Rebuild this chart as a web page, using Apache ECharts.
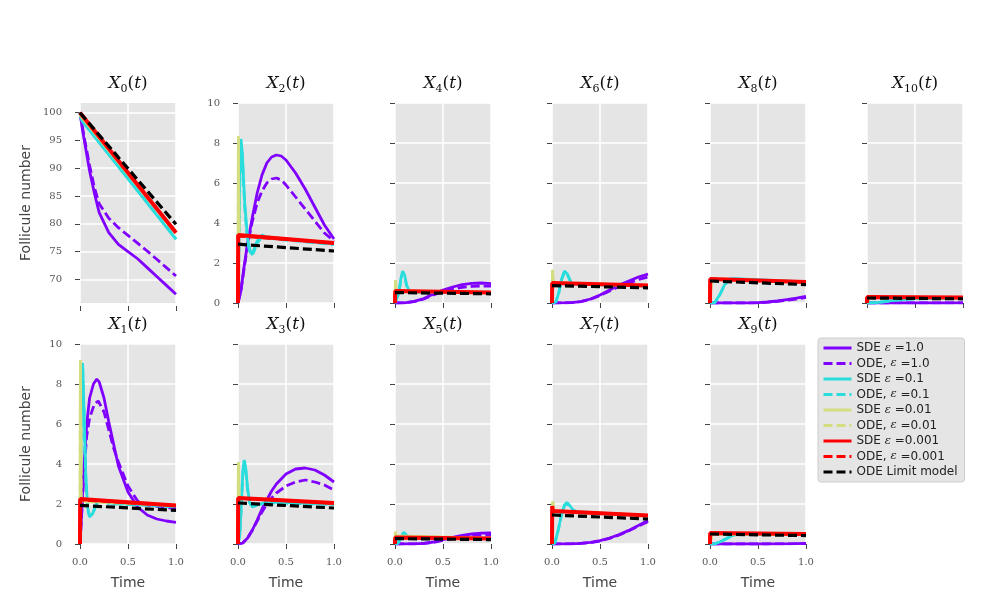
<!DOCTYPE html>
<html>
<head>
<meta charset="utf-8">
<script src="https://cdn.jsdelivr.net/npm/echarts@6/dist/echarts.min.js"></script>
<style>
html,body{margin:0;padding:0;background:#fff}
#chart{width:988px;height:611px}
</style>
</head>
<body>
<div id="chart"></div>
<script>
// one list per compartment X0..X10, each holding [time, follicle count] pairs
var sdeEps1 = [
	[[0,100],[0.025,97],[0.05,94.5],[0.1,89.5],[0.15,85.5],[0.2,82],[0.3,78.4],[0.4,76.3],[0.5,75],[0.6,73.7],[0.7,72.1],[0.8,70.5],[0.9,68.9],[1,67.3]],
	[[0,0],[0.02,1.8],[0.04,3.8],[0.07,6.0],[0.1,7.3],[0.14,8.0],[0.175,8.25],[0.2,8.1],[0.25,7.3],[0.3,6.1],[0.35,5.0],[0.4,3.9],[0.5,2.6],[0.6,1.85],[0.7,1.45],[0.8,1.25],[0.9,1.15],[1,1.08]],
	[[0,0],[0.03,0.6],[0.06,1.7],[0.1,3.0],[0.15,4.3],[0.2,5.5],[0.25,6.4],[0.3,7.0],[0.35,7.3],[0.4,7.4],[0.45,7.35],[0.5,7.15],[0.6,6.5],[0.7,5.7],[0.8,4.8],[0.9,3.9],[1,3.2]],
	[[0,0],[0.05,0.05],[0.1,0.3],[0.15,0.7],[0.2,1.2],[0.25,1.75],[0.3,2.2],[0.35,2.65],[0.4,3.0],[0.5,3.5],[0.6,3.75],[0.7,3.8],[0.8,3.7],[0.9,3.45],[1,3.1]],
	[[0,0],[0.1,0.01],[0.2,0.08],[0.3,0.22],[0.4,0.45],[0.5,0.65],[0.6,0.8],[0.7,0.92],[0.8,0.98],[0.9,1.0],[1,0.97]],
	[[0,0],[0.2,0.01],[0.3,0.03],[0.4,0.1],[0.5,0.22],[0.6,0.33],[0.7,0.43],[0.8,0.5],[0.9,0.54],[1,0.55]],
	[[0,0],[0.2,0.02],[0.3,0.07],[0.4,0.2],[0.5,0.4],[0.6,0.65],[0.7,0.9],[0.8,1.1],[0.9,1.3],[1,1.44]],
	[[0,0],[0.2,0.01],[0.3,0.03],[0.4,0.08],[0.5,0.17],[0.6,0.3],[0.7,0.47],[0.8,0.68],[0.9,0.92],[1,1.17]],
	[[0,0],[0.4,0],[0.5,0.02],[0.6,0.05],[0.7,0.1],[0.8,0.17],[0.9,0.24],[1,0.33]],
	[[0,0],[0.5,0],[0.7,0.01],[0.9,0.02],[1,0.03]],
	[[0,0],[0.8,0],[1,0.01]]
];
var odeEps1 = [
	[[0,100],[0.05,95],[0.1,90.5],[0.15,86.5],[0.2,83.6],[0.3,81],[0.4,79.3],[0.5,77.9],[0.6,76.5],[0.7,75.1],[0.8,73.6],[0.9,72.1],[1,70.6]],
	[[0,0],[0.02,1.7],[0.04,3.5],[0.07,5.4],[0.1,6.3],[0.15,7.0],[0.19,7.15],[0.25,6.6],[0.3,5.7],[0.35,4.8],[0.4,4.1],[0.5,2.9],[0.6,2.15],[0.7,1.95],[0.8,1.88],[0.9,1.82],[1,1.78]],
	[[0,0],[0.03,0.6],[0.06,1.6],[0.1,2.9],[0.15,4.1],[0.2,5.0],[0.25,5.6],[0.3,6.0],[0.35,6.2],[0.4,6.25],[0.45,6.15],[0.5,5.9],[0.6,5.3],[0.7,4.7],[0.8,4.1],[0.9,3.5],[1,3.1]],
	[[0,0],[0.05,0.05],[0.1,0.3],[0.15,0.7],[0.2,1.15],[0.25,1.6],[0.3,2.0],[0.35,2.3],[0.4,2.55],[0.5,2.9],[0.6,3.1],[0.7,3.2],[0.8,3.1],[0.9,2.95],[1,2.7]],
	[[0,0],[0.1,0.01],[0.2,0.07],[0.3,0.2],[0.4,0.4],[0.5,0.57],[0.6,0.7],[0.7,0.78],[0.8,0.83],[0.9,0.85],[1,0.84]],
	[[0,0],[0.2,0.01],[0.3,0.03],[0.4,0.08],[0.5,0.18],[0.6,0.27],[0.7,0.35],[0.8,0.41],[0.9,0.44],[1,0.45]],
	[[0,0],[0.2,0.02],[0.3,0.07],[0.4,0.18],[0.5,0.37],[0.6,0.6],[0.7,0.82],[0.8,1.0],[0.9,1.17],[1,1.3]],
	[[0,0],[0.2,0.01],[0.3,0.03],[0.4,0.07],[0.5,0.15],[0.6,0.28],[0.7,0.45],[0.8,0.66],[0.9,0.9],[1,1.12]],
	[[0,0],[0.4,0],[0.5,0.01],[0.6,0.04],[0.7,0.08],[0.8,0.14],[0.9,0.2],[1,0.28]],
	[[0,0],[0.6,0],[0.8,0.01],[1,0.02]],
	[[0,0],[1,0.005]]
];
var sdeEps01 = [
	[[0,100],[0.01,99],[0.03,98.3],[0.5,88.1],[1,77.2]],
	[[0,0],[0.01,5],[0.02,8.8],[0.027,9.05],[0.04,7],[0.06,3.5],[0.08,1.8],[0.1,1.4],[0.13,1.5],[0.17,2.0],[0.21,2.2],[0.25,2.1],[0.3,2.05],[0.5,2.0],[1,1.88]],
	[[0,0],[0.01,3.0],[0.02,6.5],[0.03,8.2],[0.045,7.5],[0.07,5.0],[0.1,3.2],[0.13,2.5],[0.16,2.6],[0.2,3.1],[0.25,3.4],[0.3,3.3],[0.5,3.2],[1,2.95]],
	[[0,0],[0.02,0.5],[0.035,2.0],[0.05,3.6],[0.065,4.2],[0.08,3.8],[0.1,2.8],[0.12,2.1],[0.15,1.85],[0.2,1.95],[0.3,2.1],[1,2.0]],
	[[0,0],[0.02,0.05],[0.04,0.5],[0.06,1.2],[0.08,1.6],[0.1,1.4],[0.12,0.9],[0.15,0.6],[0.2,0.55],[1,0.52]],
	[[0,0],[0.03,0.03],[0.06,0.3],[0.09,0.58],[0.12,0.45],[0.15,0.32],[0.2,0.3],[1,0.28]],
	[[0,0],[0.04,0.05],[0.07,0.5],[0.1,1.2],[0.13,1.6],[0.16,1.45],[0.2,1.0],[0.25,0.95],[1,0.86]],
	[[0,0],[0.03,0.05],[0.06,0.6],[0.1,1.5],[0.13,1.95],[0.155,2.08],[0.18,1.95],[0.22,1.7],[0.27,1.6],[1,1.42]],
	[[0,0],[0.05,0.02],[0.1,0.4],[0.15,0.9],[0.2,1.2],[0.25,1.22],[1,1.05]],
	[[0,0],[0.05,0.01],[0.1,0.1],[0.15,0.22],[0.2,0.35],[0.25,0.45],[0.3,0.5],[1,0.48]],
	[[0,0],[0.1,0.02],[0.2,0.08],[0.3,0.15],[0.5,0.22],[1,0.25]]
];
var odeEps01 = [
	[[0,100],[0.01,99.1],[0.03,98.4],[0.5,88.2],[1,77.3]],
	[[0,0],[0.01,5.2],[0.02,8.7],[0.027,8.95],[0.04,6.8],[0.06,3.3],[0.08,1.7],[0.1,1.35],[0.13,1.5],[0.17,1.95],[0.21,2.15],[0.25,2.1],[0.3,2.02],[0.5,1.98],[1,1.86]],
	[[0,0],[0.01,3.1],[0.02,6.4],[0.03,8.0],[0.045,7.3],[0.07,4.8],[0.1,3.0],[0.13,2.4],[0.16,2.5],[0.2,3.0],[0.25,3.3],[0.3,3.25],[0.5,3.15],[1,2.92]],
	[[0,0],[0.02,0.5],[0.035,2.0],[0.05,3.5],[0.065,4.1],[0.08,3.7],[0.1,2.7],[0.12,2.05],[0.15,1.85],[0.2,1.95],[0.3,2.05],[1,1.98]],
	[[0,0],[0.02,0.05],[0.04,0.5],[0.06,1.15],[0.08,1.55],[0.1,1.35],[0.12,0.88],[0.15,0.6],[0.2,0.55],[1,0.51]],
	[[0,0],[0.03,0.03],[0.06,0.3],[0.09,0.55],[0.12,0.44],[0.15,0.32],[0.2,0.3],[1,0.27]],
	[[0,0],[0.04,0.05],[0.07,0.5],[0.1,1.15],[0.13,1.55],[0.16,1.42],[0.2,1.0],[0.25,0.94],[1,0.85]],
	[[0,0],[0.03,0.05],[0.06,0.6],[0.1,1.45],[0.13,1.9],[0.155,2.02],[0.18,1.92],[0.22,1.68],[0.27,1.58],[1,1.4]],
	[[0,0],[0.05,0.02],[0.1,0.38],[0.15,0.88],[0.2,1.18],[0.25,1.2],[1,1.04]],
	[[0,0],[0.05,0.01],[0.1,0.1],[0.15,0.21],[0.2,0.34],[0.25,0.44],[0.3,0.49],[1,0.47]],
	[[0,0],[0.1,0.02],[0.2,0.07],[0.3,0.14],[0.5,0.21],[1,0.24]]
];
var sdeEps001 = [
	[[0,100],[0.005,99.5],[1,78.3]],
	[[0,0],[0.004,9.2],[0.008,6],[0.012,2.3],[0.02,2.15],[1,1.95]],
	[[0,0],[0.004,8.35],[0.008,5.5],[0.012,3.4],[1,3.0]],
	[[0,0],[0.004,4.1],[0.008,3.0],[0.012,2.3],[1,2.05]],
	[[0,0],[0.005,1.15],[0.01,0.8],[0.015,0.6],[1,0.53]],
	[[0,0],[0.005,0.63],[0.01,0.4],[0.015,0.32],[1,0.28]],
	[[0,0],[0.006,1.66],[0.012,1.2],[0.018,1.0],[1,0.88]],
	[[0,0],[0.008,2.13],[0.015,1.8],[0.02,1.65],[1,1.43]],
	[[0,0],[0.01,0.8],[0.02,1.2],[1,1.06]],
	[[0,0],[0.01,0.3],[0.02,0.52],[1,0.49]],
	[[0,0],[0.01,0.15],[0.03,0.28],[1,0.27]]
];
var odeEps001 = [
	[[0,100],[0.005,99.5],[1,78.4]],
	[[0,0],[0.004,9.1],[0.008,5.8],[0.012,2.3],[0.02,2.12],[1,1.94]],
	[[0,0],[0.004,8.3],[0.008,5.4],[0.012,3.4],[1,3.0]],
	[[0,0],[0.004,4.05],[0.008,2.9],[0.012,2.3],[1,2.04]],
	[[0,0],[0.005,1.1],[0.01,0.78],[0.015,0.6],[1,0.53]],
	[[0,0],[0.005,0.6],[0.01,0.4],[0.015,0.32],[1,0.28]],
	[[0,0],[0.006,1.6],[0.012,1.2],[0.018,1.0],[1,0.88]],
	[[0,0],[0.008,2.1],[0.015,1.8],[0.02,1.65],[1,1.43]],
	[[0,0],[0.01,0.8],[0.02,1.18],[1,1.05]],
	[[0,0],[0.01,0.3],[0.02,0.5],[1,0.48]],
	[[0,0],[0.01,0.15],[0.03,0.27],[1,0.26]]
];
var sdeEps0001 = [
	[[0,100],[1,78.4]],
	[[0,0],[0.002,2.25],[1,1.93]],
	[[0,0],[0.002,3.4],[1,3.0]],
	[[0,0],[0.002,2.3],[1,2.05]],
	[[0,0],[0.002,0.6],[1,0.53]],
	[[0,0],[0.002,0.32],[1,0.28]],
	[[0,0],[0.002,1.0],[1,0.88]],
	[[0,0],[0.002,1.9],[0.01,1.65],[1,1.42]],
	[[0,0],[0.002,1.2],[1,1.05]],
	[[0,0],[0.002,0.55],[1,0.5]],
	[[0,0],[0.002,0.3],[1,0.27]]
];
var odeEps0001 = [
	[[0,100],[1,78.5]],
	[[0,0],[0.002,2.2],[1,1.92]],
	[[0,0],[0.002,3.35],[1,3.0]],
	[[0,0],[0.002,2.28],[1,2.04]],
	[[0,0],[0.002,0.59],[1,0.52]],
	[[0,0],[0.002,0.31],[1,0.27]],
	[[0,0],[0.002,0.99],[1,0.87]],
	[[0,0],[0.002,1.65],[1,1.42]],
	[[0,0],[0.002,1.19],[1,1.04]],
	[[0,0],[0.002,0.54],[1,0.49]],
	[[0,0],[0.002,0.29],[1,0.26]]
];
var odeLimit = [
	[[0,100],[1,79.9]],
	[[0,1.93],[1,1.68]],
	[[0,2.94],[1,2.6]],
	[[0,2.05],[1,1.8]],
	[[0,0.52],[1,0.46]],
	[[0,0.27],[1,0.22]],
	[[0,0.87],[1,0.76]],
	[[0,1.45],[1,1.25]],
	[[0,1.1],[1,0.92]],
	[[0,0.5],[1,0.42]],
	[[0,0.25],[1,0.21]]
];

var seriesNames = ['SDE ε =1.0','ODE, ε =1.0','SDE ε =0.1','ODE, ε =0.1','SDE ε =0.01','ODE, ε =0.01','SDE ε =0.001','ODE, ε =0.001','ODE Limit model'];
var seriesColors = ['#8000ff','#8000ff','#2adddd','#2adddd','#d4dd80','#d4dd80','#ff0000','#ff0000','#000000'];
var seriesData = [sdeEps1, odeEps1, sdeEps01, odeEps01, sdeEps001, odeEps001, sdeEps0001, odeEps0001, odeLimit];
var xTicks = [0, 0.5, 1];
var yTicksX0 = [70, 75, 80, 85, 90, 95, 100];

var colLeft = [80, 238, 395, 552, 710, 867];
var rowTop = [103, 344];
var boxW = 96, boxH = 200;

var chart = echarts.init(document.getElementById('chart'));

var grids = [], xAxes = [], yAxes = [], titles = [], series = [];
for (var k = 0; k < 11; k++) {
	var row = k % 2, col = Math.floor(k / 2);
	grids.push({left: colLeft[col], top: rowTop[row], width: boxW, height: boxH,
		show: true, backgroundColor: '#e5e5e5', borderWidth: 0});
	titles.push({
		text: '{x|X}{s|' + k + '}{p|(}{x|t}{p|)}',
		left: colLeft[col] + boxW / 2, top: rowTop[row] - 30, textAlign: 'center', padding: 0,
		textStyle: {fontWeight: 'normal', rich: {
			x: {fontFamily: 'DejaVu Serif', fontStyle: 'italic', fontWeight: 'normal', fontSize: 17, color: '#111', lineHeight: 22},
			s: {fontFamily: 'DejaVu Serif', fontWeight: 'normal', fontSize: 11, color: '#111', lineHeight: 14, verticalAlign: 'bottom'},
			p: {fontFamily: 'DejaVu Serif', fontWeight: 'normal', fontSize: 17, color: '#111', lineHeight: 22}
		}}
	});
	xAxes.push({
		type: 'value', gridIndex: k, min: 0, max: 1, interval: 0.5, offset: 3,
		axisLine: {show: false},
		axisTick: {show: true, length: 5, lineStyle: {color: '#444', width: 1}},
		axisLabel: {show: row === 1, margin: 10, fontFamily: 'DejaVu Serif', fontSize: 10, color: '#555',
			formatter: function (v) { return v.toFixed(1); }},
		splitLine: {show: true, lineStyle: {color: '#ffffff', width: 1.5}},
		name: row === 1 ? 'Time' : '', nameLocation: 'middle', nameGap: 29,
		nameTextStyle: {fontFamily: 'DejaVu Sans', fontSize: 14, color: '#444'}
	});
	var y = {
		type: 'value', gridIndex: k, offset: 6,
		axisLine: {show: false},
		axisTick: {show: true, length: 5, lineStyle: {color: '#444', width: 1}},
		axisLabel: {show: k <= 2, margin: 12, fontFamily: 'DejaVu Serif', fontSize: 10, color: '#555'},
		splitLine: {show: true, lineStyle: {color: '#ffffff', width: 1.5}},
		name: col === 0 ? 'Follicule number' : '', nameLocation: 'middle', nameGap: 41,
		nameTextStyle: {fontFamily: 'DejaVu Sans', fontSize: 14, color: '#444'}
	};
	if (k === 0) {
		y.min = 65.73; y.max = 101.75;
		y.axisTick.customValues = yTicksX0;
		y.axisLabel.customValues = yTicksX0;
	} else {
		y.min = 0; y.max = 10; y.interval = 2;
	}
	yAxes.push(y);
}

for (var s = 0; s < seriesData.length; s++) {
	var dashed = s % 2 === 1 || s === 8;
	var w = (s === 6) ? 4 : (s === 8 ? 3.2 : 2.8);
	for (var k = 0; k < 11; k++) {
		series.push({
			type: 'line', name: seriesNames[s], xAxisIndex: k, yAxisIndex: k,
			data: seriesData[s][k], symbol: 'none', silent: true,
			lineStyle: {color: seriesColors[s], width: w, type: dashed ? [9, 4] : 'solid'},
			itemStyle: {color: seriesColors[s]}
		});
	}
}

var option = {
	animation: false,
	title: titles,
	grid: grids,
	xAxis: xAxes,
	yAxis: yAxes,
	legend: {
		data: seriesNames, orient: 'vertical', left: 818, top: 338,
		itemWidth: 28, itemHeight: 14, itemGap: 3.5, padding: [4, 7, 4, 4],
		backgroundColor: '#e5e5e5', borderColor: '#cccccc', borderWidth: 1, borderRadius: 3,
		selectedMode: false, itemStyle: {opacity: 0}, lineStyle: {width: 3},
		formatter: function (name) { return name.replace('ε', '{e|ε}'); },
		textStyle: {fontFamily: 'DejaVu Sans', fontSize: 12, color: '#222',
			rich: {e: {fontFamily: 'DejaVu Serif', fontStyle: 'italic', fontSize: 11.5, color: '#222'}}}
	},
	series: series
};
chart.setOption(option);
</script>
</body>
</html>
